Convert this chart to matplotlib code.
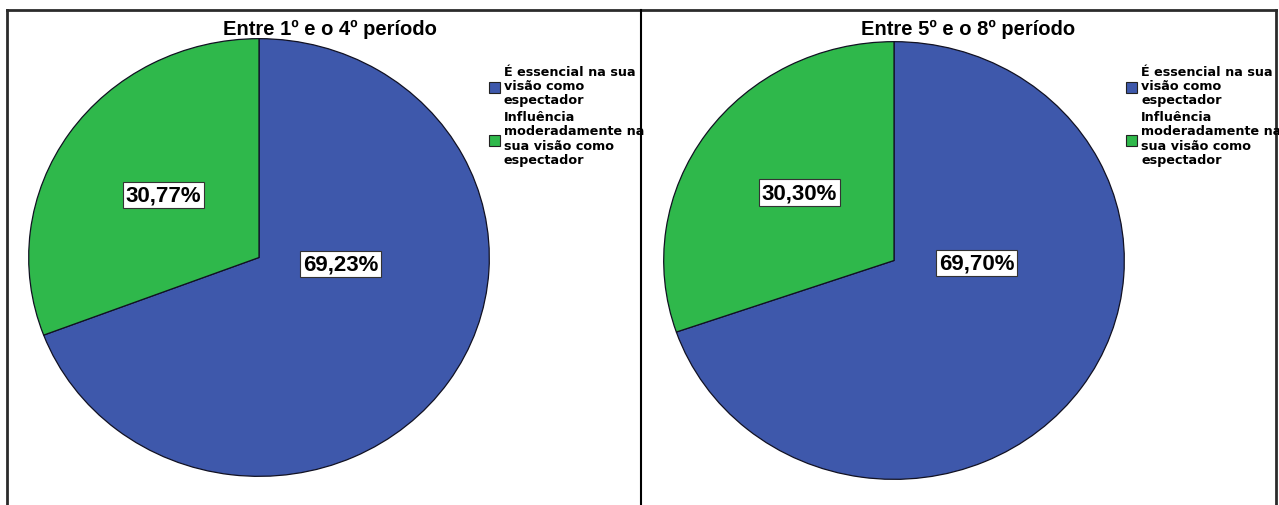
#!/usr/bin/env python3
"""
Pie charts of how the course period relates to the spectator's view.
"""

import matplotlib
matplotlib.use("Agg")
from matplotlib import pyplot as plt
from matplotlib.lines import Line2D
from matplotlib.patches import Rectangle

W, H = 1279, 506

# Data
titles = ["Entre 1º e o 4º período", "Entre 5º e o 8º período"]
categories = [
    "É essencial na sua\nvisão como\nespectador",
    "Influência\nmoderadamente na\nsua visão como\nespectador",
]
shares_1_4 = [69.23, 30.77]
shares_5_8 = [69.70, 30.30]
colors = ["#3e58ab", "#2fb84b"]

# panel geometry in pixels: pie box (left, top, right, bottom), legend x
panels = [
    dict(box=(28, 39, 490, 478), title_x=330, leg_x=489,
         lab=[(0.355, -0.03), (-0.415, 0.285)]),
    dict(box=(663, 42, 1125, 481), title_x=968, leg_x=1126,
         lab=[(0.36, -0.01), (-0.41, 0.31)]),
]


def fx(x):
    return x / W


def fy(y):
    return 1 - y / H


def fmt_pct(v):
    return f"{v:.2f}%".replace(".", ",")


fig = plt.figure(figsize=(W / 100, H / 100), dpi=100)

for shares, title, p in zip([shares_1_4, shares_5_8], titles, panels):
    l, t, r, b = p["box"]
    ax = fig.add_axes([fx(l), fy(b), (r - l) / W, (b - t) / H])
    wedges, _ = ax.pie(shares, colors=colors, startangle=90,
                       counterclock=False, radius=1,
                       wedgeprops=dict(edgecolor="#111122", linewidth=0.9))
    ax.set_aspect("auto")
    ax.set_xlim(-1.003, 1.003)
    ax.set_ylim(-1.003, 1.003)
    ax.axis("off")

    for v, (lx, ly) in zip(shares, p["lab"]):
        ax.text(lx, ly, fmt_pct(v), ha="center", va="center",
                fontsize=16, fontweight="bold", family="Liberation Sans",
                bbox=dict(boxstyle="square,pad=0.12", fc="white",
                          ec="#333333", lw=0.8))

    fig.text(fx(p["title_x"]), fy(29), title, ha="center", va="center",
             fontsize=14.5, fontweight="bold", family="Liberation Sans")

    # legend: coloured square beside each wrapped label
    y = 66
    line_h = 14.4
    for cat, c in zip(categories, colors):
        n = cat.count("\n") + 1
        fig.text(fx(p["leg_x"] + 15), fy(y), cat, ha="left", va="top",
                 fontsize=9.2, fontweight="bold", family="DejaVu Sans",
                 linespacing=1.12)
        mid = y + n * line_h / 2 + 1
        fig.add_artist(Rectangle((fx(p["leg_x"]), fy(mid + 5.5)), 11 / W,
                                 11 / H, transform=fig.transFigure,
                                 fc=c, ec="#222222", lw=0.8))
        y += n * line_h + 2

# outer frame and divider
frame = dict(transform=fig.transFigure, color="#2b2b2b", lw=2)
fig.add_artist(Line2D([fx(7), fx(1276)], [fy(11), fy(11)], **frame))
fig.add_artist(Line2D([fx(7), fx(7)], [fy(11), 0], **frame))
fig.add_artist(Line2D([fx(1276), fx(1276)], [fy(11), 0], **frame))
fig.add_artist(Line2D([fx(641), fx(641)], [fy(11), 0],
                      transform=fig.transFigure, color="black", lw=1.5))

fig.savefig("out.png", dpi=100)
